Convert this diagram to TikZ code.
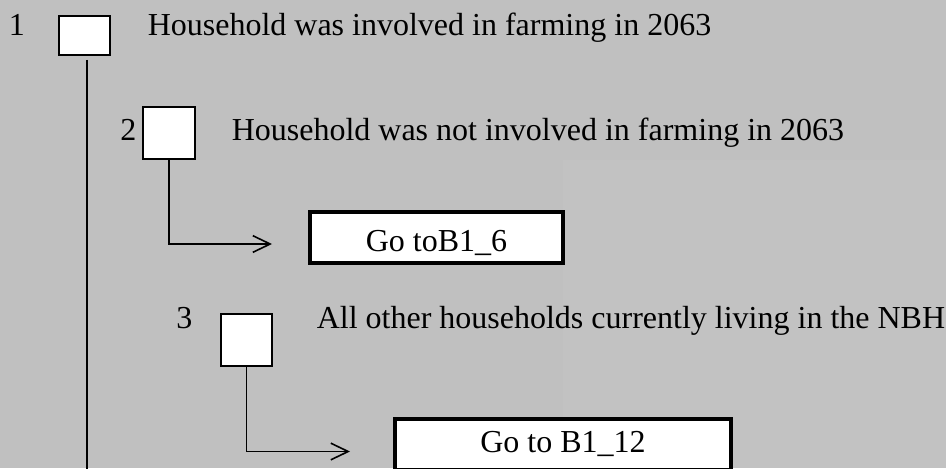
\documentclass[tikz,border=0pt]{standalone}
\usepackage{fontspec}
\setmainfont{Liberation Serif}
\usetikzlibrary{arrows.meta}
\definecolor{bg}{HTML}{C0C0C0}
\definecolor{bglight}{HTML}{C2C2C2}
\begin{document}
\begin{tikzpicture}[x=0.75pt,y=-0.75pt,
 every node/.style={font=\fontsize{24}{28}\selectfont},
 lbl/.style={anchor=base west, inner sep=0pt},
 tick/.style={draw, line width=1.4pt, fill=white, inner sep=0pt},
 gobox/.style={draw, line width=2.4pt, fill=white, inner sep=0pt, minimum height=38.25pt},
 conn/.style={line width=1.2pt},
 arr/.style={conn, -{Straight Barb[length=13pt,width=12.5pt]}}
]
\useasboundingbox (0,0) rectangle (946,468);
\fill[bg] (0,0) rectangle (946,468);
\fill[bglight] (563,160) rectangle (946,468);

\node[tick, minimum width=38.25pt, minimum height=29.25pt] (b1) at (84.5,35.5) {};
\node[tick, minimum width=39pt, minimum height=39pt] (b2) at (169,133) {};
\node[tick, minimum width=38.25pt, minimum height=39pt] (b3) at (246.5,340) {};

\node[lbl] (n1) at (8.5,35.5) {1};
\node[lbl] (t1) at (147.5,35.5) {Household was involved in farming in 2063};
\node[lbl] (n2) at (120,140) {2};
\node[lbl] (t2) at (231.5,140) {Household was not involved in farming in 2063};
\node[lbl] (n3) at (176,328) {3};
\node[lbl] (t3) at (316.5,328) {All other households currently living in the NBH};

\node[gobox, minimum width=189.75pt, text height=20.25pt, text depth=0pt] (g1) at (436.5,237.5) {Go toB1\_6};
\node[gobox, minimum width=252pt, text height=11.25pt, text depth=0pt] (g2) at (563,444.5) {Go to B1\_12};

\coordinate (e1) at (86.7,470);
\draw[conn, shorten <=3pt] (b1.south -| e1) -- (e1);
\coordinate (a1) at (272,244);
\draw[arr] (b2.south) |- (a1);
\coordinate (a2) at (350,451.5);
\draw[arr] (b3.south) |- (a2);
\end{tikzpicture}
\end{document}
